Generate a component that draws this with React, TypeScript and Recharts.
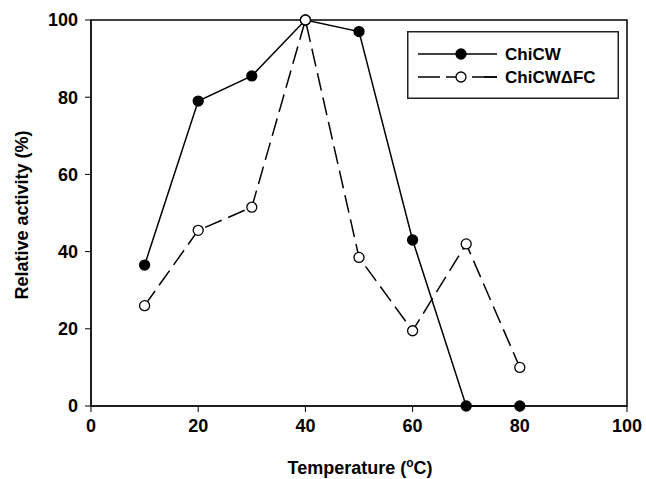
import { LineChart, Line, XAxis, YAxis, ReferenceArea } from "recharts"

const temperatures = [10, 20, 30, 40, 50, 60, 70, 80]
const chiCW = [36.5, 79, 85.5, 100, 97, 43, 0, 0]
const chiCWdFC = [26, 45.5, 51.5, 100, 38.5, 19.5, 42, 10]
const xTicks = [0, 20, 40, 60, 80, 100]
const yTicks = [0, 20, 40, 60, 80, 100]

const data = temperatures.map((t, i) => ({ t, chiCW: chiCW[i], chiCWdFC: chiCWdFC[i] }))

const font = "'Liberation Sans', Arial, sans-serif"

// legend box, drawn in its own svg over the plot
function LegendBox() {
  return (
    <svg width={212} height={68} style={{ position: "absolute", left: 407, top: 31 }}>
      <rect x={0.75} y={0.75} width={210.5} height={66.5} fill="#fff" stroke="#222" strokeWidth={1.5} />
      <line x1={11} y1={23} x2={90} y2={23} stroke="#000" strokeWidth={1.5} />
      <circle cx={54} cy={23} r={5} fill="#000" stroke="#000" strokeWidth={1.3} />
      <text x={98} y={29} fontFamily={font} fontWeight="bold" fontSize={17}>ChiCW</text>
      <line x1={11} y1={46} x2={90} y2={46} stroke="#000" strokeWidth={1.5} strokeDasharray="22 6 10 28" />
      <line x1={65} y1={46} x2={90} y2={46} stroke="#000" strokeWidth={1.5} />
      <circle cx={54} cy={46} r={5} fill="#fff" stroke="#000" strokeWidth={1.3} />
      <text x={98} y={52} fontFamily={font} fontWeight="bold" fontSize={17}>ChiCWΔFC</text>
    </svg>
  )
}

const YLabel = () => (
  <text x={28} y={215} transform="rotate(-90 28 215)" textAnchor="middle" fontFamily={font} fontWeight="bold" fontSize={18} fill="#000">
    Relative activity (%)
  </text>
)

const XLabel = () => (
  <text x={360} y={474} textAnchor="middle" fontFamily={font} fontWeight="bold" fontSize={18} fill="#000">
    Temperature (<tspan fontSize={12} dy={-7}>o</tspan><tspan dy={7}>C)</tspan>
  </text>
)

export default function App() {
  return (
    <div style={{ position: "absolute", left: 0, top: 0, width: 646, height: 479, background: "#fff" }}>
      <LineChart width={646} height={479} data={data} margin={{ top: 20, right: 19, bottom: 13, left: 20 }}>
        <XAxis
          dataKey="t"
          type="number"
          domain={[0, 100]}
          ticks={xTicks}
          height={60}
          stroke="#000"
          tickSize={6}
          tick={{ fill: "#000", fontFamily: font, fontWeight: "bold", fontSize: 18, dy: 5 }}
          label={<XLabel />}
        />
        <YAxis
          type="number"
          domain={[0, 100]}
          ticks={yTicks}
          width={71}
          stroke="#000"
          tickSize={6}
          tick={{ fill: "#000", fontFamily: font, fontWeight: "bold", fontSize: 18, dx: -5 }}
          label={<YLabel />}
        />
        <ReferenceArea x1={0} x2={100} y1={0} y2={100} fill="none" stroke="#000" strokeWidth={1.5} />
        <Line
          dataKey="chiCW"
          stroke="#000"
          strokeWidth={1.5}
          dot={{ r: 5, fill: "#000", stroke: "#000", strokeWidth: 1.3 }}
          isAnimationActive={false}
        />
        <Line
          dataKey="chiCWdFC"
          stroke="#000"
          strokeWidth={1.5}
          strokeDasharray="18 7"
          dot={{ r: 5, fill: "#fff", stroke: "#000", strokeWidth: 1.3, strokeDasharray: "" }}
          isAnimationActive={false}
        />
      </LineChart>
      <LegendBox />
    </div>
  )
}
